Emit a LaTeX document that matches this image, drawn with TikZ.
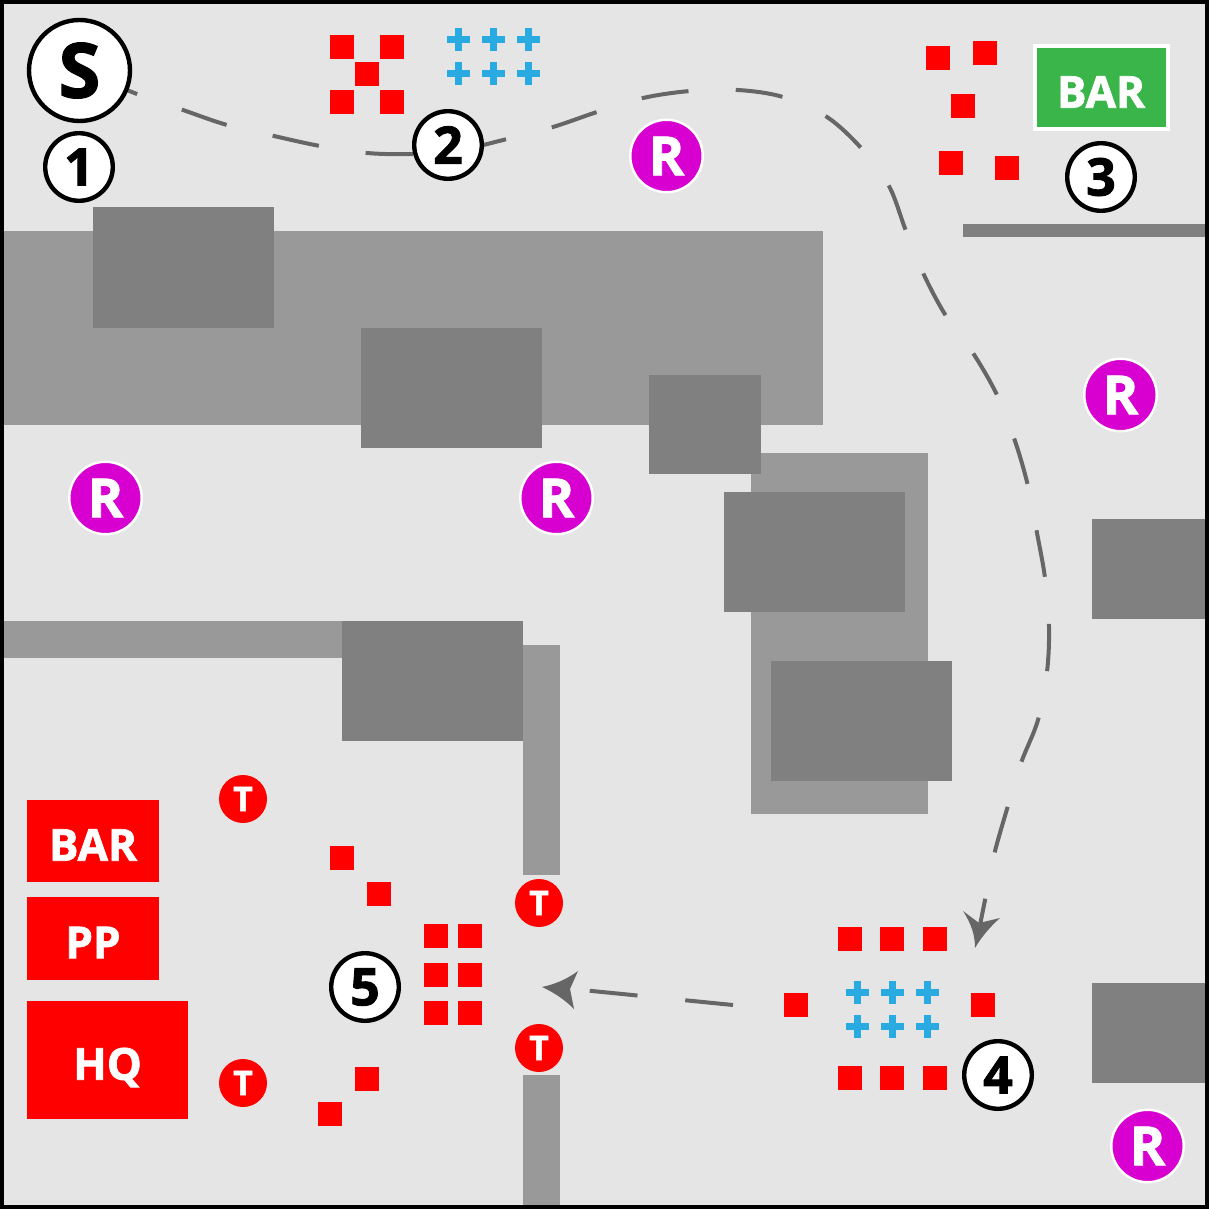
\documentclass[tikz,border=0pt]{standalone}
\usepackage{fontspec}
\setmainfont{Open Sans}[BoldFeatures={FakeBold=1.6}]
\usetikzlibrary{backgrounds}
\definecolor{ground}{HTML}{E5E5E5}
\definecolor{lightb}{HTML}{999999}
\definecolor{darkb}{HTML}{808080}
\definecolor{routec}{HTML}{666666}
\definecolor{barg}{HTML}{3AB54A}
\definecolor{plusb}{HTML}{29ABE2}
\definecolor{magr}{HTML}{D800D0}
\definecolor{redr}{HTML}{FF0000}
\tikzset{
  lightblock/.style={fill=lightb},
  darkblock/.style={fill=darkb},
  squarem/.style={rectangle,fill=redr,minimum size=12pt,inner sep=0pt},
  startm/.style={circle,draw=black,fill=white,line width=2.2pt,minimum size=50.5pt,inner sep=0pt,font=\fontsize{38}{38}\selectfont\bfseries},
  numm/.style={circle,draw=black,fill=white,line width=2.2pt,minimum size=33.8pt,inner sep=0pt,font=\fontsize{26}{26}\selectfont\bfseries},
  rm/.style={circle,draw=white,fill=magr,line width=1.2pt,minimum size=36.2pt,inner sep=0pt,text=white,font=\fontsize{27}{27}\selectfont\bfseries},
  tm/.style={circle,fill=redr,minimum size=24pt,inner sep=0pt,text=white,font=\fontsize{17}{17}\selectfont\bfseries},
  labeltext/.style={inner sep=0pt,text=white,text height=19.7pt,text depth=0pt,font=\fontsize{22}{22}\selectfont\bfseries},
  labelbox/.style={rectangle,fill=redr,labeltext},
  route/.style={draw=routec,line width=2pt},
  headm/.style={fill=routec},
}
\begin{document}
\begin{tikzpicture}[x=.5pt,y=-.5pt]
\useasboundingbox (0,0) rectangle (1209,1209);
\begin{pgfonlayer}{background}
\fill[ground] (0,0) rectangle (1209,1209);
% blocks
\fill[lightblock] (4,231) rectangle (823,424.5);
\fill[lightblock] (751,452.5) rectangle (928,813.5);
\fill[lightblock] (4,621) rectangle (345,658);
\fill[lightblock] (522.5,645) rectangle (560,875);
\fill[lightblock] (522.5,1074.5) rectangle (560,1205);
\fill[darkblock] (93,207) rectangle (273.5,327.5);
\fill[darkblock] (361,327.5) rectangle (542,448);
\fill[darkblock] (648.5,374.5) rectangle (761,474);
\fill[darkblock] (724,491.5) rectangle (905,611.5);
\fill[darkblock] (771,661) rectangle (952,781);
\fill[darkblock] (1092,519) rectangle (1205,618.5);
\fill[darkblock] (1092,983) rectangle (1205,1082.5);
\fill[darkblock] (963,224) rectangle (1205,237);
\fill[darkblock] (342,621) rectangle (522.5,741);
\end{pgfonlayer}
% route
\node[startm] (S) at (79.5,70.5) {S};
\node[numm] (n1) at (79,167) {1};
\node[numm] (n2) at (448,145) {2};
\node[numm] (n3) at (1101,177) {3};
\node[numm] (n4) at (998,1075) {4};
\node[numm] (n5) at (365,987) {5};
\coordinate (routeend) at (980,925);
\coordinate (routeb) at (733,1005);
\coordinate (routec) at (572,989);
\begin{pgfonlayer}{background}
\draw[route,dash pattern=on 23.65pt off 23.65pt,dash phase=39.8pt]
  plot[smooth,tension=.55] coordinates {(S.center) (137,94) (183,110) (227,125) (274,136) (320,146) (367,153) (413,154) (460,150) (507,139) (553,127) (597,112) (643,98) (690,91) (738,90) (783,97) (827,117) (862,149) (889,186) (906,231) (924,275) (946,316) (973,353) (997,395) (1015,441) (1028,486) (1037,533) (1045,578) (1049,627) (1047,672) (1038,720) (1021,763) (1007,809) (994,855) (985,900) (routeend)};
\draw[route,dash pattern=on 24pt off 24pt] (routeb) -- (routec);
\end{pgfonlayer}
\fill[headm] (975,948) .. controls (975,936) and (972,925) .. (963,911) -- (979,923) -- (1000,918) .. controls (991,926) and (982,936) .. (975,948) -- cycle;
\fill[headm] (542,987) .. controls (556,984) and (567,979) .. (578,971) -- (570,989) -- (574,1009) .. controls (565,1000) and (555,993) .. (542,987) -- cycle;
% bars
\node[rectangle,draw=white,fill=barg,line width=2pt,minimum width=66.5pt,minimum height=41.5pt,labeltext] (bargreen) at (1101,88) {BAR};
\node[labelbox,minimum width=66pt,minimum height=41pt] (barred) at (93,841) {BAR};
\node[labelbox,minimum width=66pt,minimum height=41.5pt] (pp) at (93,938.5) {PP};
\node[labelbox,minimum width=80.5pt,minimum height=59pt] (hq) at (107.5,1060) {HQ};
% red squares
\foreach \x/\y [count=\i] in {342/47,392/47,367/74,342/102,392/102,938/58,985/53,963/106,951/163,1007/168,850/939,892/939,935/939,796/1005,983/1005,850/1078,892/1078,935/1078,342/858,379/894,436/936,470/936,436/975,470/975,436/1013,470/1013,367/1079,330/1114}
  \node[squarem,name=q\i] at (\x,\y) {};
% plus signs
\foreach \x/\y in {458/40,493/40,528/40,458/74,493/74,528/74,857/992,892/992,927/992,857/1026,892/1026,927/1026}{
  \fill[plusb] (\x-11.5,\y-3.5) rectangle (\x+11.5,\y+3.5);
  \fill[plusb] (\x-3.5,\y-11.5) rectangle (\x+3.5,\y+11.5);
}
% R and T markers
\node[rm] (r1) at (666.5,156) {R};
\node[rm] (r2) at (1120.5,395) {R};
\node[rm] (r3) at (105.5,498) {R};
\node[rm] (r4) at (556.5,498) {R};
\node[rm] (r5) at (1147.5,1146) {R};
\node[tm] (t1) at (243,799) {T};
\node[tm] (t2) at (539,903) {T};
\node[tm] (t3) at (539,1048) {T};
\node[tm] (t4) at (243,1083) {T};
% frame
\draw[black,line width=2pt] (2,2) rectangle (1207,1207);
\end{tikzpicture}
\end{document}
